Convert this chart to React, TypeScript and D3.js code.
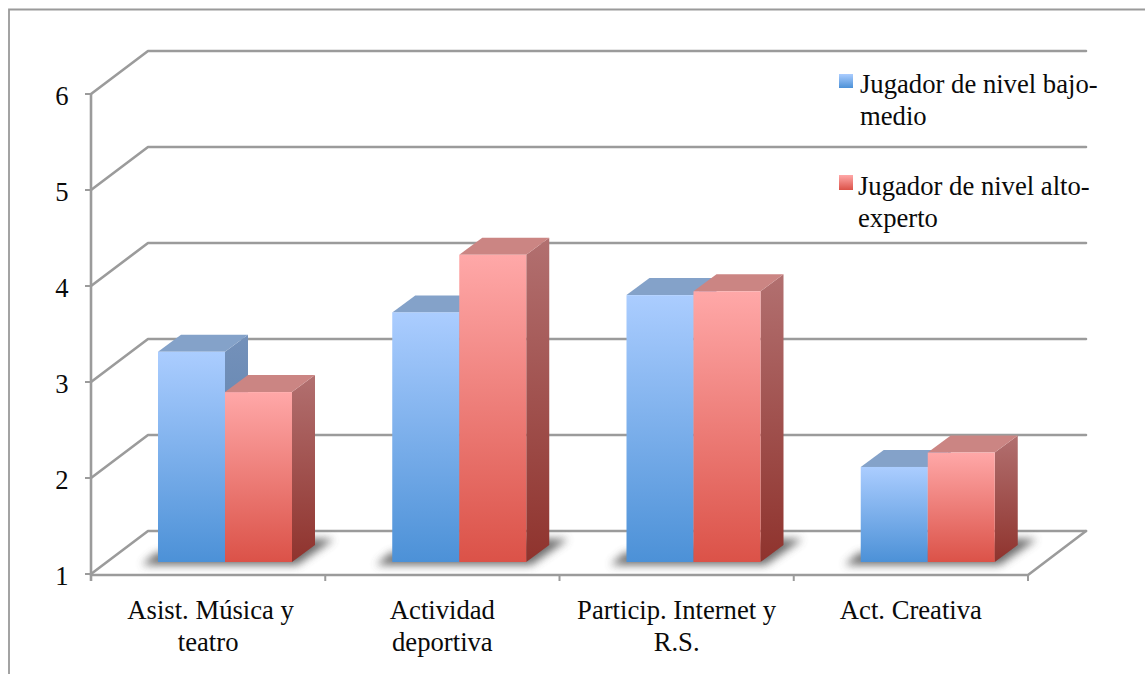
import React from "react";
import * as d3 from "d3";

// Chart content
const categories = [
  ["Asist. Música y", "teatro"],
  ["Actividad", "deportiva"],
  ["Particip. Internet y", "R.S."],
  ["Act. Creativa"],
];
const bajoMedio = [3.19, 3.6, 3.78, 1.99];
const altoExperto = [2.77, 4.2, 3.82, 2.14];
const yTicks = [1, 2, 3, 4, 5, 6];
const legendBajo = ["Jugador de nivel bajo-", "medio"];
const legendAlto = ["Jugador de nivel alto-", "experto"];

const FONT = "'Liberation Serif', 'Times New Roman', serif";
const AXIS = "#9b9b9b";
const FONT_SIZE = 26.67;

// Oblique projection of the 3D box
const WALL_DX = 57;
const WALL_DY = -43.5;
const BAR_DX = 23;
const BAR_DY = -17;
const BAR_PLANE_DY = -12;

const y = d3.scaleLinear().domain([1, 6]).range([574, 94]);
const xBand = d3.scaleBand<number>().domain([0, 1, 2, 3]).range([91, 1028]);
const xSeries = d3.scaleBand<string>().domain(["bajo", "alto"]).range([67, 201]);

const series = [
  { key: "bajo", values: bajoMedio, front: "url(#blueFront)", top: "#84a2c9", side: "url(#blueSide)" },
  { key: "alto", values: altoExperto, front: "url(#redFront)", top: "#cb8583", side: "url(#redSide)" },
];

const poly = (pts: [number, number][]) => pts.map((p) => p.join(",")).join(" ");

function Vertical({ id, from, to }: { id: string; from: string; to: string }) {
  return (
    <linearGradient id={id} x1="0" y1="0" x2="0" y2="1">
      <stop offset="0" stopColor={from} />
      <stop offset="1" stopColor={to} />
    </linearGradient>
  );
}

export default function App() {
  const floorY = y(1) + BAR_PLANE_DY;
  const bw = xSeries.bandwidth();
  return (
    <svg
      width={1145}
      height={674}
      style={{ position: "absolute", left: 0, top: 0, background: "#fff" }}
      fontFamily={FONT}
    >
      <defs>
        <Vertical id="blueFront" from="#abcdff" to="#4c91d7" />
        <Vertical id="redFront" from="#ffa8a8" to="#db5248" />
        <Vertical id="blueSide" from="#7491ba" to="#547ba8" />
        <Vertical id="redSide" from="#b27070" to="#8f332d" />
        <filter id="soft" x="-20%" y="-60%" width="140%" height="220%">
          <feGaussianBlur stdDeviation="4.5" />
        </filter>
      </defs>

      {/* outer frame */}
      <path d="M1145,9.5 H9 V674" fill="none" stroke="#9a9a9a" strokeWidth={1.8} />

      {/* wall gridlines, side wall diagonals and floor outline */}
      {yTicks.map((t) => (
        <g key={t}>
          <path
            d={`M${xBand.range()[0]},${y(t)} L${xBand.range()[0] + WALL_DX},${y(t) + WALL_DY + 0.5} H${xBand.range()[1] + WALL_DX + 1}`}
            fill="none"
            stroke={AXIS}
            strokeWidth={2.6}
            strokeLinecap="round"
            strokeLinejoin="round"
          />
          <line x1={85} x2={91} y1={y(t)} y2={y(t)} stroke={AXIS} strokeWidth={2} />
          <text x={62} y={y(t) + 10.5} fontSize={FONT_SIZE} textAnchor="middle" fill="#0a0a0a">
            {t}
          </text>
        </g>
      ))}
      <line x1={91} x2={91} y1={y(6)} y2={y(1) + 7} stroke={AXIS} strokeWidth={2.6} />
      <path
        d={`M91,${y(1) + 1} H1028 L${1028 + WALL_DX + 1},${y(1) + WALL_DY + 0.5}`}
        fill="none"
        stroke={AXIS}
        strokeWidth={2.6}
        strokeLinejoin="round"
        strokeLinecap="round"
      />
      {[0, 1, 2, 3, 4].map((i) => {
        const tx = i < 4 ? (xBand(i) as number) : xBand.range()[1];
        return <line key={i} x1={tx} x2={tx} y1={y(1) + 1} y2={y(1) + 7} stroke={AXIS} strokeWidth={2} />;
      })}

      {/* floor shadows */}
      {categories.map((_, i) => {
        const x0 = (xBand(i) as number) + 67;
        const x1 = x0 + 2 * bw;
        return (
          <polygon
            key={i}
            points={poly([
              [x0 - 16, floorY + 3],
              [x1 + 5, floorY + 3],
              [x1 + 42, floorY - 23],
              [x1 + 10, floorY - 23],
              [x0 - 2, floorY - 9],
            ])}
            fill="#555"
            opacity={0.85}
            filter="url(#soft)"
          />
        );
      })}

      {/* bars, each as a front, top and side face */}
      {categories.map((_, i) =>
        series.map((s) => {
          const x0 = (xBand(i) as number) + (xSeries(s.key) as number);
          const x1 = x0 + bw;
          const top = y(s.values[i]) + BAR_PLANE_DY;
          return (
            <g key={s.key}>
              <polygon
                points={poly([
                  [x1, top],
                  [x1 + BAR_DX, top + BAR_DY],
                  [x1 + BAR_DX, floorY + BAR_DY],
                  [x1, floorY],
                ])}
                fill={s.side}
              />
              <polygon
                points={poly([
                  [x0, top],
                  [x0 + BAR_DX, top + BAR_DY],
                  [x1 + BAR_DX, top + BAR_DY],
                  [x1, top],
                ])}
                fill={s.top}
              />
              <rect x={x0} y={top} width={bw} height={floorY - top} fill={s.front} />
            </g>
          );
        })
      )}

      {/* category labels */}
      {categories.map((lines, i) => {
        const cx = (xBand(i) as number) + xBand.bandwidth() / 2;
        return (
          <text key={i} fontSize={FONT_SIZE} textAnchor="middle" fill="#0a0a0a">
            {lines.map((line, k) => (
              <tspan key={k} x={i === 0 && k === 0 ? cx + 2.5 : cx} y={618.5 + k * 32}>
                {line}
              </tspan>
            ))}
          </text>
        );
      })}

      {/* legend */}
      <rect x={839} y={74} width={14} height={14} fill="url(#blueFront)" />
      <text fontSize={FONT_SIZE} fill="#0a0a0a">
        {legendBajo.map((line, k) => (
          <tspan key={k} x={860} y={93 + k * 32}>
            {line}
          </tspan>
        ))}
      </text>
      <rect x={839} y={175} width={14} height={15} fill="url(#redFront)" />
      <text fontSize={FONT_SIZE} fill="#0a0a0a">
        {legendAlto.map((line, k) => (
          <tspan key={k} x={858} y={195 + k * 32}>
            {line}
          </tspan>
        ))}
      </text>
    </svg>
  );
}
